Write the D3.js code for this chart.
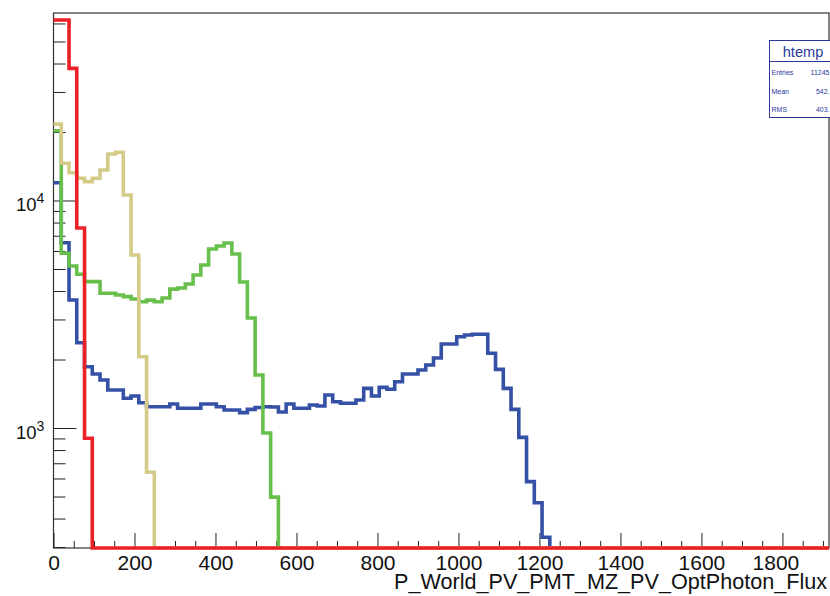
<!DOCTYPE html>
<html>
<head>
<meta charset="utf-8">
<script src="https://cdn.jsdelivr.net/npm/d3@7"></script>
<style>
  html, body { margin: 0; padding: 0; background: #fff; }
  svg { display: block; font-family: "Liberation Sans", Arial, Helvetica, sans-serif; }
</style>
</head>
<body>
<svg id="chart" width="830" height="596"></svg>
<script>
// ---------------- data ----------------
const nBins = 100;
const xMax = 1915;
const yMin = 296.9;
const yMax = 66700;

const blueCounts = [11970, 6525, 3652, 2371, 1860, 1727, 1625, 1469, 1469, 1351,
  1382, 1292, 1241, 1241, 1241, 1275, 1221, 1221, 1221, 1275,
  1275, 1241, 1200, 1200, 1168, 1208, 1230, 1241, 1237, 1176,
  1275, 1221, 1221, 1262, 1249, 1397, 1305, 1284, 1284, 1328,
  1494, 1382, 1509, 1480, 1598, 1727, 1727, 1799, 1892, 2031,
  2340, 2340, 2520, 2564, 2582, 2582, 2130, 1811, 1494, 1208,
  910, 581, 469, 331];
const greenCounts = [20270, 5860, 5150, 4740, 4400, 4400, 3910, 3910, 3840, 3780,
  3690, 3590, 3650, 3590, 3730, 4080, 4125, 4295, 4705, 5205,
  6120, 6310, 6505, 5820, 4385, 3045, 1710, 951, 497];
const tanCounts = [21660, 14570, 13250, 12520, 12100, 12520, 13620, 16010, 16290, 10570,
  5760, 2058, 639];
const redCounts = [62150, 62150, 38100, 7570, 901];

const xMajorTicks = [0, 200, 400, 600, 800, 1000, 1200, 1400, 1600, 1800];
const xMinorStep = 50;
const yMajorTicks = [1000, 10000];
const yMajorExp = ["3", "4"];
const yMinorTicks = [300, 400, 500, 600, 700, 800, 900,
  2000, 3000, 4000, 5000, 6000, 7000, 8000, 9000,
  20000, 30000, 40000, 50000, 60000];

const xTitle = "P_World_PV_PMT_MZ_PV_OptPhoton_Flux";
const statsTitle = "htemp";
const statsNames = ["Entries", "Mean", "RMS"];
const statsValues = ["11245", "542.", "403."];

const series = [
  { name: "blue", counts: blueCounts, color: "#3451a6" },
  { name: "green", counts: greenCounts, color: "#68bf4c" },
  { name: "tan", counts: tanCounts, color: "#d4cb88" },
  { name: "red", counts: redCounts, color: "#ee2027" }
];

// ---------------- layout ----------------
const L = 53.5, R = 829, T = 13, B = 548;
const svg = d3.select("#chart");
const x = d3.scaleLinear().domain([0, xMax]).range([L, R]);
const y = d3.scaleLog().domain([yMin, yMax]).range([B, T]);
const binW = xMax / nBins;

// frame
svg.append("rect").attr("x", L).attr("y", T).attr("width", R - L).attr("height", B - T)
  .attr("fill", "#fff").attr("stroke", "#333").attr("stroke-width", 1.2);

// x axis ticks (inward)
const xMinorTicks = d3.range(0, xMax, xMinorStep).filter(v => v % 200 !== 0);
const gxMin = svg.append("g").attr("transform", `translate(0,${B})`)
  .call(d3.axisBottom(x).tickValues(xMinorTicks).tickSize(-7).tickSizeOuter(0).tickFormat(""));
const gxMaj = svg.append("g").attr("transform", `translate(0,${B})`)
  .call(d3.axisBottom(x).tickValues(xMajorTicks).tickSize(-15).tickSizeOuter(0).tickPadding(0)
    .tickFormat(d3.format("d")));
[gxMin, gxMaj].forEach(g => {
  g.select(".domain").remove();
  g.selectAll("line").attr("stroke", "#222").attr("stroke-width", 1);
});
gxMaj.selectAll("text")
  .attr("y", 22).attr("dy", 0)
  .attr("dx", d => d === 1800 ? -7 : 0)
  .attr("font-size", 21).attr("fill", "#111")
  .attr("font-family", "Liberation Sans, Arial, sans-serif");

// y axis ticks (inward)
const gyMin = svg.append("g").attr("transform", `translate(${L},0)`)
  .call(d3.axisLeft(y).tickValues(yMinorTicks).tickSize(-12).tickSizeOuter(0).tickFormat(""));
const gyMaj = svg.append("g").attr("transform", `translate(${L},0)`)
  .call(d3.axisLeft(y).tickValues(yMajorTicks).tickSize(-23).tickSizeOuter(0).tickFormat(""));
[gyMin, gyMaj].forEach(g => {
  g.select(".domain").remove();
  g.selectAll("line").attr("stroke", "#222").attr("stroke-width", 1);
});
const yLab = svg.append("g").selectAll("text").data(yMajorTicks).join("text")
  .attr("x", 16).attr("y", d => y(d) + 10.5)
  .attr("font-size", 18.5).attr("fill", "#111");
yLab.append("tspan").text("10");
yLab.append("tspan").attr("dy", -7.5).attr("font-size", 14)
  .text((d, i) => yMajorExp[i]);

// histograms
const line = d3.line();
series.forEach(s => {
  const pts = [];
  for (let k = 0; k < nBins; k++) {
    const v = s.counts[k] || 0;
    const yy = v > yMin ? y(v) : y(yMin);
    pts.push([x(k * binW), yy], [x((k + 1) * binW), yy]);
  }
  svg.append("path").attr("d", line(pts))
    .attr("fill", "none").attr("stroke", s.color)
    .attr("stroke-width", 3.6).attr("stroke-linejoin", "miter").attr("stroke-linecap", "butt");
});

// x title
svg.append("text").attr("x", 827).attr("y", 588.5).attr("text-anchor", "end")
  .attr("font-size", 21.6).attr("fill", "#111").text(xTitle);

// stats box
const sb = svg.append("g");
const statBlue = "#2a3a9c";
sb.append("rect").attr("x", 769.5).attr("y", 40.5).attr("width", 80).attr("height", 77)
  .attr("fill", "#fff").attr("stroke", statBlue).attr("stroke-width", 1);
sb.append("line").attr("x1", 769.5).attr("x2", 830).attr("y1", 61.5).attr("y2", 61.5)
  .attr("stroke", statBlue).attr("stroke-width", 1);
sb.append("text").attr("x", 803).attr("y", 56.5).attr("text-anchor", "middle")
  .attr("font-size", 14.6).attr("fill", statBlue).text(statsTitle);
sb.selectAll("text.n").data(statsNames).join("text").attr("class", "n")
  .attr("x", 771.5).attr("y", (d, i) => 75 + i * 18.5)
  .attr("font-size", 7).attr("fill", statBlue).text(d => d);
sb.selectAll("text.v").data(statsValues).join("text").attr("class", "v")
  .attr("x", 829.5).attr("y", (d, i) => 75 + i * 18.5).attr("text-anchor", "end")
  .attr("font-size", 7).attr("fill", statBlue).text(d => d);
</script>
</body>
</html>
